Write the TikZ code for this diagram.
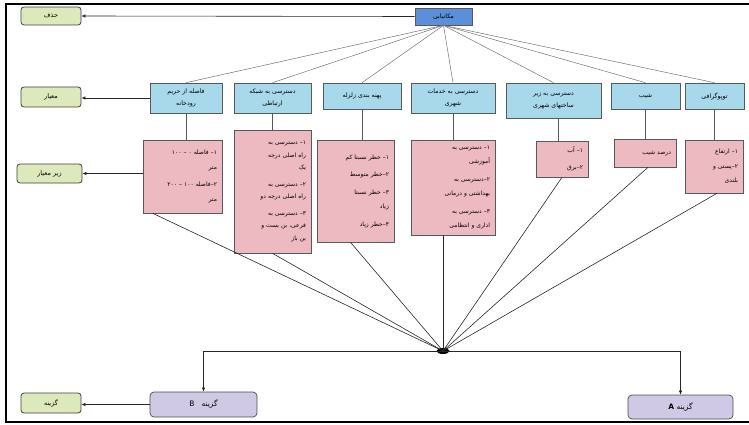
\documentclass[tikz,border=0pt]{standalone}
\usepackage{fontspec}
\newfontfamily\arabicfont[Script=Arabic]{DejaVu Sans}
\TeXXeTstate=1
\usetikzlibrary{arrows.meta,shapes.geometric}
\newcommand\fa[1]{\beginR #1\endR}
\definecolor{topblue}{HTML}{5B8FDA}
\definecolor{critblue}{HTML}{A8D9EA}
\definecolor{subpink}{HTML}{EDBAC2}
\definecolor{levelgreen}{HTML}{DDE8BB}
\definecolor{optlav}{HTML}{CFC9E5}
\begin{document}
\begin{tikzpicture}[x=1pt,y=-1pt,
  box/.style={draw=black!65, line width=0.6pt, inner sep=1pt, align=center,
    font=\arabicfont\fontsize{6.2}{12}\selectfont},
  topbox/.style={box, fill=topblue},
  critbox/.style={box, fill=critblue},
  subbox/.style={box, fill=subpink, align=right, inner xsep=5pt,
    font=\arabicfont\fontsize{6}{14.5}\selectfont},
  levelbox/.style={box, fill=levelgreen, rounded corners=3pt, draw=black!75, line width=0.8pt,
    font=\arabicfont\fontsize{6.5}{8}\selectfont},
  optbox/.style={box, fill=optlav, rounded corners=4pt, draw=black!70, line width=0.7pt,
    font=\arabicfont\fontsize{7.5}{9}\selectfont},
  fanline/.style={draw=black!55, line width=0.5pt},
  stemline/.style={draw=black!65, line width=0.6pt},
  hubline/.style={draw=black!85, line width=0.6pt},
  arrowline/.style={draw=black!85, line width=0.6pt, -{Latex[length=4pt,width=3.5pt]}}
]
\useasboundingbox (0,0) rectangle (749,425);
% frame
\draw[line width=2pt] (749,4) -- (6,4) -- (6,422) -- (749,422);

% top goal
\node[topbox, minimum width=57pt, minimum height=17pt] (top) at (443.5,16.5) {\fa{مکانیابی}};

% level labels
\node[levelbox, minimum width=60pt, minimum height=18pt] (lgoal) at (51,16) {\fa{حذف}};
\node[levelbox, minimum width=60pt, minimum height=20pt] (lcrit) at (51,97) {\fa{معیار}};
\node[levelbox, minimum width=65pt, minimum height=19pt] (lsub) at (49.5,173.5) {\fa{زیر معیار}};
\node[levelbox, minimum width=60pt, minimum height=20pt] (lopt) at (51,403) {\fa{گزینه}};

% criteria
\node[critbox, minimum width=72pt, minimum height=30pt] (c1) at (186,98) {\fa{فاصله از حریم}\\\fa{رودخانه}};
\node[critbox, minimum width=77pt, minimum height=30pt] (c2) at (272.5,98) {\fa{دسترسی به شبکه}\\\fa{ارتباطی}};
\node[critbox, minimum width=78pt, minimum height=26pt] (c3) at (362,96) {\fa{پهنه بندی زلزله}};
\node[critbox, minimum width=84pt, minimum height=30pt] (c4) at (453,98) {\fa{دسترسی به خدمات}\\\fa{شهری}};
\node[critbox, minimum width=95pt, minimum height=35pt] (c5) at (553.5,100.5) {\fa{دسترسی به زیر}\\\fa{ساختهای شهری}};
\node[critbox, minimum width=69pt, minimum height=26pt] (c6) at (645.5,96) {\fa{شیب}};
\node[critbox, minimum width=59pt, minimum height=26pt] (c7) at (714.5,96) {\fa{توپوگرافی}};

% sub-criteria
\node[subbox, text width=69pt, minimum height=73pt] (p1) at (182.5,176.5)
  {\fa{۱– فاصله ۰ – \beginL۱۰۰\endL}\\\fa{متر}\\[3pt]\fa{۲–فاصله \beginL۱۰۰\endL{} – \beginL۲۰۰\endL}\\\fa{متر}};
\node[subbox, text width=67pt, minimum height=123pt, font=\arabicfont\fontsize{6}{12.5}\selectfont] (p2) at (272.5,191.5)
  {\fa{۱– دسترسی به}\\\fa{راه اصلی درجه}\\\fa{یک}\\[4pt]\fa{۲– دسترسی به}\\\fa{راه اصلی درجه دو}\\[4pt]\fa{۳– دسترسی به}\\\fa{فرعی، بن بست و}\\\fa{بن باز}};
\node[subbox, text width=67pt, minimum height=102pt] (p3) at (355.5,191)
  {\fa{۱– خطر نسبتا کم}\\[3pt]\fa{۲–خطر متوسط}\\[3pt]\fa{۳– خطر نسبتا}\\\fa{زیاد}\\[3pt]\fa{۴–خطر زیاد}};
\node[subbox, text width=74pt, minimum height=95pt] (p4) at (453,187.5)
  {\fa{۱– دسترسی به}\\\fa{آموزشی}\\[3pt]\fa{۲–دسترسی به}\\\fa{بهداشتی و درمانی}\\[3pt]\fa{۳– دسترسی به}\\\fa{اداری و انتظامی}};
\node[subbox, text width=42pt, minimum height=36pt] (p5) at (562,159)
  {\fa{۱– آب}\\[3pt]\fa{۲–برق}};
\node[subbox, text width=52pt, minimum height=28pt] (p6) at (645,153)
  {\fa{درصد شیب}};
\node[subbox, text width=48pt, minimum height=53pt] (p7) at (714,166.5)
  {\fa{۱– ارتفاع}\\\fa{۲–پستی و}\\\fa{بلندی}};

% hub
\node[ellipse, fill=black, minimum width=13pt, minimum height=6pt, inner sep=0pt] (hub) at (443,351) {};

% options
\node[optbox, minimum width=107pt, minimum height=25pt] (B) at (203.5,404.5) {\fa{گزینه \ \ B}};
\node[optbox, minimum width=105pt, minimum height=24pt] (A) at (680.5,407) {\fa{گزینه \textbf{A}}};

% fan from goal to criteria
\foreach \c in {c1,c2,c3,c4,c5,c6,c7}
  \draw[fanline] (top.south) -- (\c.north);

% stems criteria -> sub-criteria
\draw[stemline] (c1.south) -- (c1.south |- p1.north);
\draw[stemline] (c2.south) -- (c2.south |- p2.north);
\draw[stemline] (c3.south) -- (c3.south |- p3.north);
\draw[stemline] (c4.south) -- (c4.south |- p4.north);
\draw[stemline] (p5.north -| 558,0) -- (c5.south -| 558,0);
\draw[stemline] (c6.south) -- (c6.south |- p6.north);
\draw[stemline] (c7.south) -- (c7.south |- p7.north);

% sub-criteria -> hub
\draw[hubline] ([xshift=10pt]p1.south west) -- (hub.center);
\draw[hubline] (p2.south) -- (hub.center);
\draw[hubline] ([xshift=-5pt]p3.south) -- (hub.center);
\draw[hubline] (p4.south -| hub.center) -- (hub.center);
\draw[hubline] (p5.south) -- (hub.center);
\draw[hubline] ([xshift=3pt]p6.south) -- (hub.center);
\draw[hubline] ([xshift=3pt]p7.south) -- (hub.center);

% hub -> options
\draw[arrowline] (hub.center) -| (B.north);
\draw[arrowline] (hub.center) -| (A.north);

% level arrows
\draw[arrowline] (top.west) -- (lgoal.east);
\draw[arrowline] (c1.west) -- (c1.west -| lcrit.east);
\draw[arrowline] (lsub.east -| p1.west) -- (lsub.east);
\draw[arrowline] (B.west) -- (B.west -| lopt.east);
\end{tikzpicture}
\end{document}
